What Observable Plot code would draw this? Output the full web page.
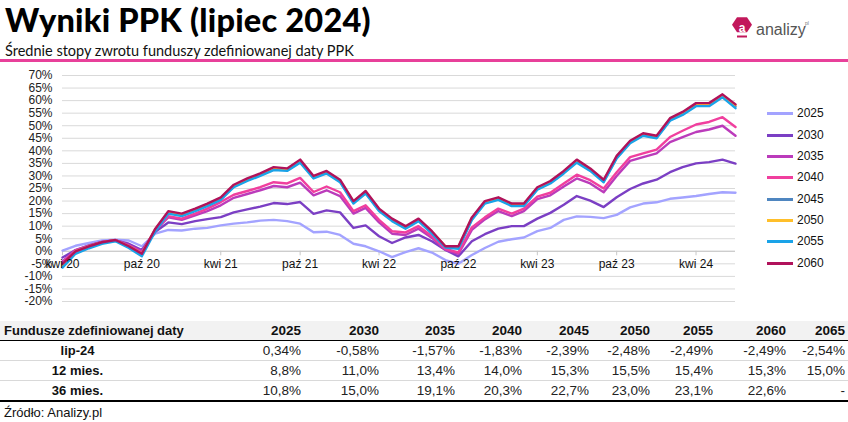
<!DOCTYPE html>
<html>
<head>
<meta charset="utf-8">
<script src="https://cdn.jsdelivr.net/npm/d3@7"></script>
<script src="https://cdn.jsdelivr.net/npm/@observablehq/plot@0.6"></script>
<style>
  body { margin:0; width:848px; height:422px; position:relative; overflow:hidden; background:#fff; font-family:"Liberation Sans", Arial, sans-serif; color:#111; }
  #title { position:absolute; left:5px; top:0px; font-family:Lato, sans-serif; font-weight:900; font-size:32.5px; letter-spacing:0.2px; color:#000; white-space:nowrap; }
  #sub { position:absolute; left:5px; top:42px; font-family:Lato, sans-serif; font-size:14.5px; color:#111; white-space:nowrap; }
  #bar { position:absolute; left:0; top:59px; width:848px; height:3px; background:#e8409a; }
  #chart { position:absolute; left:0; top:62px; }
  #legend { position:absolute; left:0; top:0; }
  .li { position:absolute; left:767px; height:14px; font-size:12px; line-height:14px; white-space:nowrap; }
  .li span.sw { position:absolute; left:0; top:6px; width:26px; height:3px; }
  .li span.tx { position:absolute; left:30px; top:0; color:#111; }
  #tbl { position:absolute; left:0; top:321px; width:848px; border-collapse:collapse; table-layout:fixed; font-size:13.5px; color:#222; }
  #tbl td, #tbl th { padding:0; height:19px; line-height:19px; text-align:right; white-space:nowrap; overflow:visible; }
  #tbl thead th { background:#f2f2f2; font-weight:bold; font-size:13.5px; color:#111; border-bottom:1.5px solid #000; }
  #tbl tbody td { border-bottom:1px solid #d9d9d9; }
  #tbl tbody tr:last-child td { border-bottom:2px solid #000; }
  #tbl .lab { text-align:center; font-weight:bold; font-size:13px; color:#111; }
  #tbl thead th.lab { text-align:left; padding-left:4px; }
  #src { position:absolute; left:4px; top:405px; font-size:13px; color:#111; }
</style>
</head>
<body>
<div id="title">Wyniki PPK (lipiec 2024)</div>
<div id="sub">Średnie stopy zwrotu funduszy zdefiniowanej daty PPK</div>
<svg id="logo" style="position:absolute;left:725px;top:10px" width="90" height="34">
  <polygon points="7,7 12,1 22,1 27,7 22,13 12,13" fill="#c2185b" transform="translate(0,6) scale(1,1.25)"/>
  <text x="17" y="22" text-anchor="middle" fill="#fff" font-family="Liberation Sans, Arial" font-weight="bold" font-size="12">a</text>
  <rect x="12" y="25.5" width="10" height="2" fill="#c2185b"/>
  <text x="31" y="25" fill="#555" font-family="Liberation Sans, Arial" font-size="16">analizy</text>
  <text x="80" y="15" fill="#777" font-family="Liberation Sans, Arial" font-size="5">pl</text>
</svg>
<div id="bar"></div>
<div id="chart"></div>
<div id="legend"></div>
<table id="tbl"></table>
<div id="src">Źródło: Analizy.pl</div>
<script>
// ---- data ----
const seriesNames = ["2025","2030","2035","2040","2045","2050","2055","2060"];
const seriesColors = ["#a3a3ff","#7b3fc4","#bb3bbb","#f03f9e","#4f86c0","#ffbf2a","#1aa3e8","#b0125b"];
// monthly observations, Apr 2020 .. Jul 2024 (52 points)
const months = d3.utcMonth.range(new Date(Date.UTC(2020,3,1)), new Date(Date.UTC(2024,6,2)));
const s2025 = [0.3,2.2,3.3,4.3,4.6,4.3,2,7,8.5,8.3,9,9.3,10.3,11,11.5,12.2,12.5,12,11,7.6,7.8,6.5,3,2,0,-2.3,-0.3,1.2,-0.5,-3.5,-5,-1.5,1.3,3.8,4.8,5.5,8,9.3,12.5,13.9,13.7,13.2,14.5,17.5,19,19.5,20.9,21.4,22,22.8,23.5,23.3];
const s2030 = [-2.5,0.5,2.3,3.7,4.3,3,0.5,7.8,11.5,10.8,12,12.8,13.6,15.5,16.7,17.8,19.2,18.8,19.6,14.9,16.3,15.5,9.3,10.3,6,3.3,5.5,6.5,4,0.5,-2,4,6.8,9,10,10,13,15.3,18.5,22,20.2,17.6,21.5,24.8,27,28.5,31.5,33.5,35,35.5,36.5,34.9];
const s2035 = [-4,0.5,2.2,3.7,4.4,2.5,0,8.3,13.5,12.5,14.3,16,18.3,21.3,22.8,24.3,26,25.5,27.3,22.3,24.3,22,15,17.3,11.5,7,6.5,9,5.3,0.6,-1,8.5,12.7,16,14,16,20.8,22.3,25.8,29,27,23.5,30,36,37.5,39,43.5,45.5,47.5,48.5,50,46];
const s2040 = [-4.5,0.3,2,3.6,4.4,2.2,-0.5,8.5,14,13,15,17,19.6,22.5,24,25.5,27.5,27,29.2,23.6,25.8,23.5,16,18.3,12.5,8,7.5,10,6,1,-0.5,9.5,13.5,17,15,17,21.8,23.3,27,30.5,28.3,25,31.5,37.5,39,40.5,45.5,48,50.5,51.5,53.4,49.5];
const s2045 = [-5.5,-0.3,1.8,3.4,4.3,1.8,-1.2,8.5,15.4,14.4,16.4,18.4,20.8,25.8,28.3,30.3,32.7,32.3,35.7,29.3,31.3,27.8,19.4,23.3,16.3,12.3,9.3,12.3,7.3,1.8,1.4,12.8,19.3,20.8,18.3,18.3,24.8,27.3,31.3,35.7,32.3,27.8,37.3,43.3,46.3,45.3,52.3,54.7,58.2,58.2,61.7,57.7];
const s2050 = [-5.5,0,2,3.5,4.4,2,-1,8.8,15.7,14.7,16.7,18.7,21.2,26.2,28.7,30.7,33.2,32.7,36.2,29.7,31.7,28.2,19.8,23.7,16.7,12.7,9.7,12.7,7.7,2,1.7,13.2,19.7,21.2,18.7,18.7,25.2,27.7,31.7,36.2,32.7,28.2,37.7,43.7,46.7,45.7,52.7,55.2,58.7,58.7,62.2,58.2];
const s2055 = [-6.5,-1,1.2,3,4,1.3,-2,8,15,14,16,18,20.5,25.5,28,30,32.3,32,35.3,29,31,27.5,19,23,16,12,9,12,7,1.5,1,12.5,19,20.5,18,18,24.5,27,31,35.3,32,27.5,37,43,46,45,52,54.3,57.8,57.8,61.3,57];
const s2060 = [-5,0,2,3.6,4.5,2,-1,9,16,15,17,19,21.5,26.5,29,31,33.5,33,36.5,30,32,28.5,20,24,17,13,10,13,8,2,2,13.5,20,21.5,19,19,25.5,28,32,36.5,33,28.5,38,44,47,46,53,55.5,59,59,62.5,58.5];
const seriesValues = [s2025,s2030,s2035,s2040,s2045,s2050,s2055,s2060];
const yTicks = [-20,-15,-10,-5,0,5,10,15,20,25,30,35,40,45,50,55,60,65,70];
const xTickDates = ["2020-04-01","2020-10-01","2021-04-01","2021-10-01","2022-04-01","2022-10-01","2023-04-01","2023-10-01","2024-04-01"].map(d => new Date(d + "T00:00:00Z"));
const xTickLabels = ["kwi 20","paź 20","kwi 21","paź 21","kwi 22","paź 22","kwi 23","paź 23","kwi 24"];
// table
const tblYears = ["2025","2030","2035","2040","2045","2050","2055","2060","2065"];
const tblRowLabels = ["lip-24","12 mies.","36 mies."];
const rowLip24 = ["0,34%","-0,58%","-1,57%","-1,83%","-2,39%","-2,48%","-2,49%","-2,49%","-2,54%"];
const row12m = ["8,8%","11,0%","13,4%","14,0%","15,3%","15,5%","15,4%","15,3%","15,0%"];
const row36m = ["10,8%","15,0%","19,1%","20,3%","22,7%","23,0%","23,1%","22,6%","-"];

// ---- build ----
const data = [];
seriesNames.forEach((name, i) => {
  seriesValues[i].forEach((v, j) => data.push({series: name, date: months[j], value: v}));
});
const xTicks = xTickDates.map((d, i) => ({date: d, label: xTickLabels[i]}));

const chart = Plot.plot({
  width: 848,
  height: 250,
  marginLeft: 62,
  marginRight: 113,
  marginTop: 13,
  marginBottom: 11,
  style: {fontFamily: "Liberation Sans, Arial, sans-serif", fontSize: "12px", color: "#222", background: "transparent"},
  x: {type: "utc", domain: [months[0], months[months.length - 1]], axis: null},
  y: {domain: [-20, 70], axis: null},
  color: {domain: seriesNames, range: seriesColors},
  marks: [
    Plot.gridY(yTicks, {stroke: "#d9d9d9", strokeOpacity: 1, strokeWidth: 1}),
    Plot.axisY(yTicks, {tickSize: 0, tickPadding: 10, tickFormat: d => d + "%", fontSize: 12, anchor: "left", label: null}),
    Plot.ruleY([0], {stroke: "#c8c8c8", strokeWidth: 1}),
    Plot.ruleX(xTicks, {x: "date", y1: 0, y2: -1.8, stroke: "#c8c8c8"}),
    Plot.line(data, {x: "date", y: "value", z: "series", stroke: "series", strokeWidth: 2.4, strokeLinejoin: "round"}),
    Plot.text(xTicks, {x: "date", y: 0, text: "label", dy: 13, fontSize: 12, fill: "#111"})
  ]
});
document.getElementById("chart").appendChild(chart);

// legend
const legend = document.getElementById("legend");
seriesNames.forEach((name, i) => {
  const div = document.createElement("div");
  div.className = "li";
  div.style.top = (106.3 + i * 21.35) + "px";
  div.innerHTML = `<span class="sw" style="background:${seriesColors[i]}"></span><span class="tx">${name}</span>`;
  legend.appendChild(div);
});

// table
const colWidths = [155, 146, 78, 76, 67, 67, 61, 63, 73, 59, 3];
const tbl = document.getElementById("tbl");
const cg = document.createElement("colgroup");
colWidths.forEach(w => { const c = document.createElement("col"); c.style.width = w + "px"; cg.appendChild(c); });
tbl.appendChild(cg);
const thead = document.createElement("thead");
thead.innerHTML = "<tr><th class='lab'>Fundusze zdefiniowanej daty</th>" + tblYears.map(y => `<th>${y}</th>`).join("") + "<th></th></tr>";
tbl.appendChild(thead);
const tbody = document.createElement("tbody");
[rowLip24, row12m, row36m].forEach((row, i) => {
  const tr = document.createElement("tr");
  tr.innerHTML = `<td class='lab'>${tblRowLabels[i]}</td>` + row.map(v => `<td>${v}</td>`).join("") + "<td></td>";
  tbody.appendChild(tr);
});
tbl.appendChild(tbody);
</script>
</body>
</html>
